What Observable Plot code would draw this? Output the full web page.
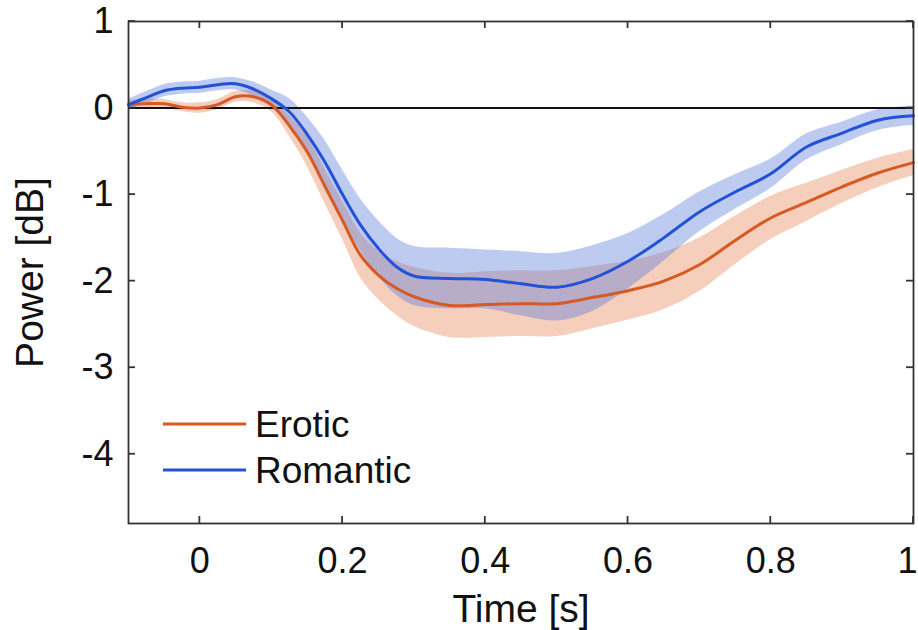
<!DOCTYPE html>
<html>
<head>
<meta charset="utf-8">
<script src="https://cdn.jsdelivr.net/npm/d3@7"></script>
<script src="https://cdn.jsdelivr.net/npm/@observablehq/plot@0.6"></script>
<style>
  html, body { margin: 0; padding: 0; background: #fff; }
  #chart { width: 918px; height: 630px; }
</style>
</head>
<body>
<div id="chart"></div>
<script>
// Time axis (s) relative to stimulus onset
const time = [-0.1, -0.075, -0.05, -0.025, 0, 0.025, 0.05, 0.075, 0.1, 0.125, 0.15, 0.175, 0.2, 0.225, 0.25, 0.275, 0.3,
  0.35, 0.4, 0.45, 0.5, 0.55, 0.6, 0.65, 0.7, 0.75, 0.8, 0.85, 0.9, 0.95, 1.0];

// Mean power change (dB) per condition
const eroticMean = [0.04, 0.05, 0.05, 0.01, 0.0, 0.04, 0.13, 0.13, 0.04, -0.2, -0.5, -0.9, -1.3, -1.7, -1.93, -2.08, -2.18,
  -2.28, -2.27, -2.26, -2.26, -2.19, -2.11, -2.0, -1.81, -1.53, -1.27, -1.09, -0.91, -0.75, -0.63];
const romanticMean = [0.04, 0.12, 0.2, 0.23, 0.24, 0.27, 0.28, 0.22, 0.11, -0.04, -0.3, -0.62, -1.0, -1.35, -1.62, -1.83, -1.94,
  -1.97, -1.98, -2.03, -2.07, -1.97, -1.77, -1.5, -1.2, -0.97, -0.76, -0.45, -0.29, -0.14, -0.09];

// Half-width of the shaded error band (dB)
const eroticErr = [0.05, 0.05, 0.05, 0.05, 0.06, 0.06, 0.06, 0.07, 0.08, 0.12, 0.17, 0.2, 0.22, 0.26, 0.28, 0.31, 0.34,
  0.37, 0.38, 0.38, 0.38, 0.36, 0.34, 0.33, 0.31, 0.28, 0.25, 0.22, 0.19, 0.17, 0.15];
const romanticErr = [0.06, 0.07, 0.07, 0.07, 0.07, 0.07, 0.07, 0.08, 0.1, 0.15, 0.2, 0.25, 0.28, 0.3, 0.32, 0.33, 0.34,
  0.35, 0.34, 0.37, 0.39, 0.38, 0.32, 0.27, 0.23, 0.2, 0.17, 0.15, 0.13, 0.12, 0.11];

const seriesNames = ["Erotic", "Romantic"];
const seriesColors = ["#d65a24", "#2352d6"];
const bandColors = ["#e8926a", "#5a7ddc"];

const xTicks = [0, 0.2, 0.4, 0.6, 0.8, 1];
const yTicks = [1, 0, -1, -2, -3, -4];

const rows = [];
[[eroticMean, eroticErr], [romanticMean, romanticErr]].forEach(([m, e], i) => {
  time.forEach((t, j) => rows.push({series: seriesNames[i], t, mean: m[j], lo: m[j] - e[j], hi: m[j] + e[j]}));
});
const bySeries = name => rows.filter(d => d.series === name);

const font = "'Liberation Sans', Arial, Helvetica, sans-serif";
const axisColor = "#333";
const xLast = xTicks[xTicks.length - 1];

const plot = Plot.plot({
  width: 918,
  height: 630,
  marginLeft: 128,
  marginRight: 5,
  marginTop: 21,
  marginBottom: 107,
  style: {fontFamily: font, background: "#fff", color: "#111"},
  x: {domain: [-0.1, 1]},
  y: {domain: [-4.8, 1]},
  marks: [
    // shaded error bands
    Plot.areaY(bySeries("Erotic"), {x: "t", y1: "lo", y2: "hi", fill: bandColors[0], fillOpacity: 0.45, curve: "catmull-rom"}),
    Plot.areaY(bySeries("Romantic"), {x: "t", y1: "lo", y2: "hi", fill: bandColors[1], fillOpacity: 0.4, curve: "catmull-rom"}),
    // baseline at 0 dB
    Plot.ruleY([0], {stroke: "#111", strokeWidth: 2}),
    // mean traces
    Plot.line(bySeries("Erotic"), {x: "t", y: "mean", stroke: seriesColors[0], strokeWidth: 3, curve: "catmull-rom"}),
    Plot.line(bySeries("Romantic"), {x: "t", y: "mean", stroke: seriesColors[1], strokeWidth: 3, curve: "catmull-rom"}),
    // tick labels (the last x label sits against the right edge)
    Plot.axisX(xTicks.filter(d => d !== xLast), {anchor: "bottom", tickSize: 0, tickPadding: 24, tickFormat: d => String(d), fontSize: 36, fill: "#111", label: null}),
    Plot.axisX([xLast], {anchor: "bottom", tickSize: 0, tickPadding: 24, tickFormat: d => String(d), fontSize: 36, fill: "#111", label: null, dx: -6}),
    Plot.axisY(yTicks, {anchor: "left", tickSize: 0, tickPadding: 15, tickFormat: d => String(d), fontSize: 36, fill: "#111", label: null}),
    Plot.frame({stroke: axisColor, strokeWidth: 1.8}),
    // axis titles
    Plot.text(["Time [s]"], {frameAnchor: "bottom", dy: 86, lineAnchor: "middle", textAnchor: "middle", fontSize: 39, fill: "#111"}),
    Plot.text(["Power [dB]"], {frameAnchor: "left", dx: -98, rotate: -90, lineAnchor: "middle", textAnchor: "middle", fontSize: 39, fill: "#111"})
  ]
});

const svgSel = d3.select(plot);
const xScale = plot.scale("x"), yScale = plot.scale("y");
const [frameLeft, frameRight] = xScale.range;
const [frameBottom, frameTop] = yScale.range;

// Inward tick marks on all four sides, placed with the plot's own scales
const tickLen = 7;
const ticks = svgSel.append("g").attr("stroke", axisColor).attr("stroke-width", 1.8);
xTicks.forEach(v => {
  const px = xScale.apply(v);
  ticks.append("line").attr("x1", px).attr("x2", px).attr("y1", frameBottom).attr("y2", frameBottom - tickLen);
  ticks.append("line").attr("x1", px).attr("x2", px).attr("y1", frameTop).attr("y2", frameTop + tickLen);
});
yTicks.forEach(v => {
  const py = yScale.apply(v);
  ticks.append("line").attr("y1", py).attr("y2", py).attr("x1", frameLeft).attr("x2", frameLeft + tickLen);
  ticks.append("line").attr("y1", py).attr("y2", py).attr("x1", frameRight).attr("x2", frameRight - tickLen);
});

// Legend inside the axes, lower-left corner
const legend = svgSel.append("g").attr("font-family", font).attr("font-size", 37).attr("text-anchor", "start");
seriesNames.forEach((name, i) => {
  const cy = frameTop + 403 + i * 46;
  legend.append("line")
    .attr("x1", frameLeft + 35).attr("x2", frameLeft + 118)
    .attr("y1", cy).attr("y2", cy)
    .attr("stroke", seriesColors[i]).attr("stroke-width", 3);
  legend.append("text")
    .attr("x", frameLeft + 127).attr("y", cy).attr("dy", "0.35em")
    .attr("text-anchor", "start")
    .attr("fill", "#111").text(name);
});

document.getElementById("chart").appendChild(plot);
</script>
</body>
</html>
